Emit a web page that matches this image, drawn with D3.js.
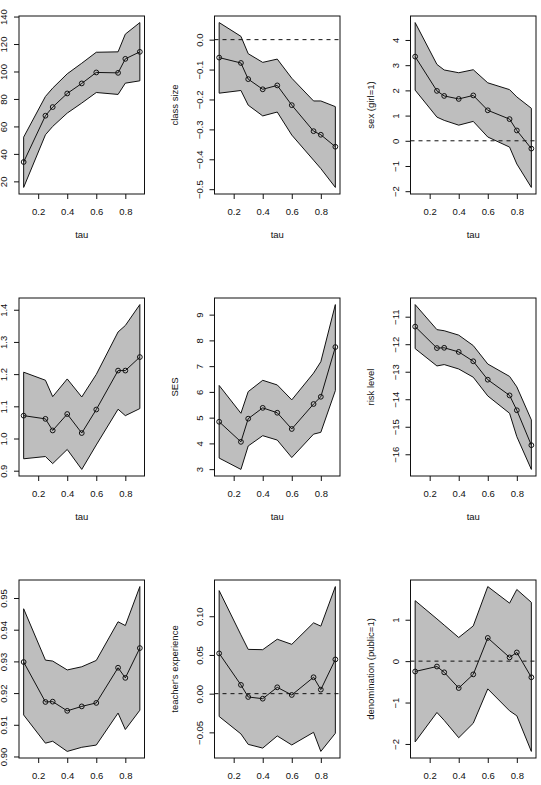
<!DOCTYPE html>
<html>
<head>
<meta charset="utf-8">
<script src="https://cdn.jsdelivr.net/npm/d3@7"></script>
<style>
  body { margin: 0; background: #fff; }
  svg { display: block; }
  text { font-family: "Liberation Sans", Arial, sans-serif; font-size: 9.5px; fill: #111; }
</style>
</head>
<body>
<script>
// quantile regression coefficient plots, 9 panels (3x3)

var taus = [0.1, 0.25, 0.3, 0.4, 0.5, 0.6, 0.75, 0.8, 0.9];
var xTicks = [0.2, 0.4, 0.6, 0.8];

// y labels (first column is cut off in the original)
var yLabels = ["", "class size", "sex (girl=1)", "", "SES", "risk level", "", "teacher's experience", "denomination (public=1)"];

// panel 1 (intercept)
var est1 = [34.1, 67.8, 74.1, 84.0, 91.3, 99.3, 99.0, 109.2, 114.3];
var lo1  = [15.6, 53.9, 60.0, 69.7, 77.0, 84.7, 83.3, 91.5, 93.2];
var hi1  = [52.2, 81.8, 87.9, 98.3, 106.0, 114.0, 114.3, 127.2, 135.6];
var ticks1 = [20, 40, 60, 80, 100, 120, 140];

// panel 2 (class size)
var est2 = [-0.060, -0.078, -0.132, -0.166, -0.153, -0.219, -0.306, -0.318, -0.358];
var lo2  = [-0.179, -0.170, -0.219, -0.255, -0.242, -0.319, -0.403, -0.431, -0.494];
var hi2  = [0.057, 0.011, -0.047, -0.076, -0.065, -0.129, -0.205, -0.205, -0.224];
var ticks2 = [-0.5, -0.4, -0.3, -0.2, -0.1, 0.0];

// panel 3 (sex)
var est3 = [3.34, 1.98, 1.78, 1.66, 1.80, 1.21, 0.86, 0.41, -0.31];
var lo3  = [2.01, 0.94, 0.81, 0.62, 0.77, 0.15, -0.25, -0.92, -1.85];
var hi3  = [4.69, 3.03, 2.81, 2.70, 2.82, 2.30, 2.03, 1.74, 1.29];
var ticks3 = [-2, -1, 0, 1, 2, 3, 4];

// panel 4
var est4 = [1.071, 1.061, 1.025, 1.076, 1.017, 1.090, 1.211, 1.211, 1.253];
var lo4  = [0.937, 0.944, 0.922, 0.966, 0.904, 0.980, 1.091, 1.071, 1.093];
var hi4  = [1.206, 1.181, 1.130, 1.185, 1.129, 1.199, 1.331, 1.351, 1.416];
var ticks4 = [0.9, 1.0, 1.1, 1.2, 1.3, 1.4];

// panel 5 (SES)
var est5 = [4.84, 4.06, 4.96, 5.38, 5.19, 4.56, 5.53, 5.81, 7.74];
var lo5  = [3.43, 2.99, 3.90, 4.30, 4.13, 3.45, 4.36, 4.43, 6.05];
var hi5  = [6.25, 5.17, 6.01, 6.45, 6.27, 5.69, 6.73, 7.17, 9.39];
var ticks5 = [3, 4, 5, 6, 7, 8, 9];

// panel 6 (risk level)
var est6 = [-11.36, -12.14, -12.13, -12.28, -12.62, -13.29, -13.86, -14.40, -15.67];
var lo6  = [-12.16, -12.79, -12.74, -12.90, -13.20, -13.88, -14.51, -15.36, -16.55];
var hi6  = [-10.56, -11.47, -11.51, -11.67, -12.05, -12.72, -13.17, -13.55, -14.75];
var ticks6 = [-16, -15, -14, -13, -12, -11];

// panel 7
var est7 = [0.9298, 0.9172, 0.9173, 0.9144, 0.9158, 0.9169, 0.9280, 0.9248, 0.9342];
var lo7  = [0.9131, 0.9042, 0.9048, 0.9016, 0.9029, 0.9036, 0.9137, 0.9085, 0.9146];
var hi7  = [0.9466, 0.9304, 0.9301, 0.9273, 0.9283, 0.9303, 0.9425, 0.9413, 0.9536];
var ticks7 = [0.90, 0.91, 0.92, 0.93, 0.94, 0.95];

// panel 8 (teacher's experience)
var est8 = [0.0520, 0.0113, -0.0043, -0.0065, 0.0082, -0.0017, 0.0212, 0.0052, 0.0442];
var lo8  = [-0.0295, -0.0520, -0.0655, -0.0703, -0.0546, -0.0663, -0.0499, -0.0746, -0.0512];
var hi8  = [0.1331, 0.0759, 0.0572, 0.0568, 0.0703, 0.0637, 0.0915, 0.0872, 0.1383];
var ticks8 = [-0.05, 0.00, 0.05, 0.10];

// panel 9 (denomination)
var est9 = [-0.25, -0.13, -0.27, -0.65, -0.32, 0.56, 0.09, 0.21, -0.39];
var lo9  = [-1.95, -1.24, -1.43, -1.85, -1.50, -0.67, -1.20, -1.32, -2.18];
var hi9  = [1.46, 1.02, 0.87, 0.57, 0.85, 1.80, 1.40, 1.73, 1.42];
var ticks9 = [-2, -1, 0, 1];

var panels = [
  [est1, lo1, hi1, ticks1], [est2, lo2, hi2, ticks2], [est3, lo3, hi3, ticks3],
  [est4, lo4, hi4, ticks4], [est5, lo5, hi5, ticks5], [est6, lo6, hi6, ticks6],
  [est7, lo7, hi7, ticks7], [est8, lo8, hi8, ticks8], [est9, lo9, hi9, ticks9]
];

var W = 541, H = 785;
var colX = [19, 214.5, 410.5];
var rowY = [16, 298, 580];
var pw = 125.5, ph = 178;

var svg = d3.select("body").append("svg")
  .attr("width", W)
  .attr("height", H);

var fmtMinus = function (s) { return s.replace("-", "\u2212"); };

panels.forEach(function (p, i) {
  var est = p[0], lo = p[1], hi = p[2], ticks = p[3];
  var g = svg.append("g")
    .attr("transform", "translate(" + colX[i % 3] + "," + rowY[Math.floor(i / 3)] + ")");

  // R style axes: 4% padding on both ends
  var x = d3.scaleLinear().domain([0.1 - 0.032, 0.9 + 0.032]).range([0, pw]);
  var ext = d3.extent(lo.concat(hi));
  var pad = (ext[1] - ext[0]) * 0.04;
  var y = d3.scaleLinear().domain([ext[0] - pad, ext[1] + pad]).range([ph, 0]);

  // confidence band
  var band = taus.map(function (t, k) { return [t, hi[k]]; })
    .concat(taus.slice().reverse().map(function (t, k) { return [t, lo[lo.length - 1 - k]]; }));
  g.append("path")
    .attr("d", d3.line().x(function (d) { return x(d[0]); }).y(function (d) { return y(d[1]); })(band) + "Z")
    .attr("fill", "#bebebe")
    .attr("stroke", "#111")
    .attr("stroke-width", 1);

  // zero line
  if (y.domain()[0] < 0 && y.domain()[1] > 0) {
    g.append("line")
      .attr("x1", 0).attr("x2", pw)
      .attr("y1", y(0)).attr("y2", y(0))
      .attr("stroke", "#111")
      .attr("stroke-dasharray", "4,4");
  }

  var pts = taus.map(function (t, k) { return [t, est[k]]; });
  g.append("path")
    .attr("d", d3.line().x(function (d) { return x(d[0]); }).y(function (d) { return y(d[1]); })(pts))
    .attr("fill", "none")
    .attr("stroke", "#111");

  g.selectAll("circle.pt").data(pts).enter().append("circle")
    .attr("class", "pt")
    .attr("cx", function (d) { return x(d[0]); })
    .attr("cy", function (d) { return y(d[1]); })
    .attr("r", 2.4)
    .attr("fill", "none")
    .attr("stroke", "#111");

  // box
  g.append("rect")
    .attr("width", pw).attr("height", ph)
    .attr("fill", "none")
    .attr("stroke", "#111");

  // x axis
  var xa = g.append("g")
    .attr("transform", "translate(0," + ph + ")")
    .call(d3.axisBottom(x).tickValues(xTicks).tickSize(5).tickFormat(d3.format(".1f")));
  xa.select(".domain").remove();
  xa.selectAll("line").attr("stroke", "#111");
  xa.selectAll("text").attr("y", 21.4).attr("dy", null);
  xa.attr("font-size", null).attr("font-family", null);

  // y axis
  var step = +Math.abs(ticks[1] - ticks[0]).toPrecision(6);
  var f = d3.format("." + d3.precisionFixed(step) + "f");
  var ya = g.append("g")
    .call(d3.axisLeft(y).tickValues(ticks).tickSize(5).tickFormat(function (d) { return fmtMinus(f(d)); }));
  ya.select(".domain").remove();
  ya.selectAll("line").attr("stroke", "#111");
  ya.selectAll("text")
    .attr("x", 0).attr("y", -12).attr("dy", null)
    .attr("text-anchor", "middle")
    .attr("transform", "rotate(-90)");
  ya.attr("font-size", null).attr("font-family", null);

  g.append("text")
    .attr("x", pw / 2)
    .attr("y", ph + 43.5)
    .attr("text-anchor", "middle")
    .text("tau");

  if (yLabels[i]) {
    g.append("text")
      .attr("transform", "translate(" + (-36.5) + "," + (ph / 2) + ") rotate(-90)")
      .attr("text-anchor", "middle")
      .text(yLabels[i]);
  }
});
</script>
</body>
</html>
